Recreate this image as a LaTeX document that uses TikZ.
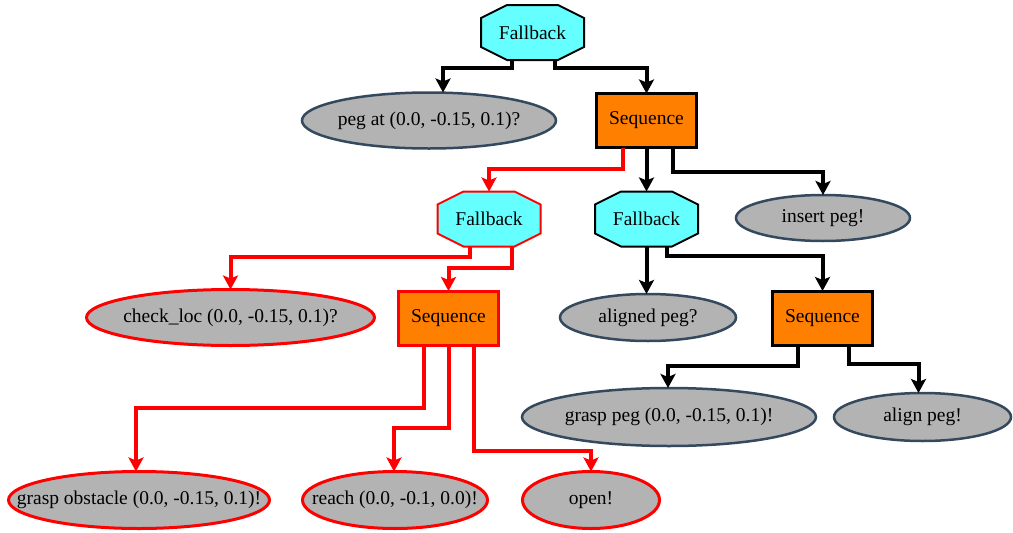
\documentclass[tikz,border=0pt]{standalone}
\usepackage{fontspec}
\setmainfont{Liberation Serif}
\usetikzlibrary{arrows.meta,backgrounds,shapes.geometric}
\definecolor{fbcyan}{HTML}{66FFFF}
\definecolor{seqorange}{HTML}{FF8000}
\definecolor{leafgray}{HTML}{B3B3B3}
\definecolor{leafedge}{HTML}{34495E}
\definecolor{hot}{HTML}{FF0000}
\tikzset{
  every node/.style={font=\fontsize{19.5}{22}\selectfont, outer sep=0pt},
  octa/.style={rectangle, minimum width=103pt, minimum height=55pt, inner sep=0pt},
  seqbox/.style={rectangle, draw=black, line width=3pt, fill=seqorange, minimum width=100pt, minimum height=54pt, inner sep=0pt},
  leaf/.style={ellipse, draw=leafedge, line width=2.5pt, fill=leafgray, inner sep=0pt},
  hotleaf/.style={leaf, draw=hot, line width=3pt},
  hotseq/.style={seqbox, draw=hot},
  edge/.style={line width=4pt, draw=black, -{Stealth[length=14pt,width=15pt,inset=3pt]}},
  hotedge/.style={edge, draw=hot},
}
\newcommand\octpath[2]{\draw[line width=2pt, draw=#2, fill=fbcyan]
  ([xshift=26pt]#1.north west) -- ([xshift=-26pt]#1.north east) --
  ([yshift=-13pt]#1.north east) -- ([yshift=13pt]#1.south east) --
  ([xshift=-26pt]#1.south east) -- ([xshift=26pt]#1.south west) --
  ([yshift=13pt]#1.south west) -- ([yshift=-13pt]#1.north west) -- cycle;}
\newcommand\lt[1]{\makebox[0pt][c]{#1}}
\begin{document}
\begin{tikzpicture}[x=1pt,y=-1pt]
\useasboundingbox (0,0) rectangle (1013,533);
% nodes
\node[octa] (fb1) at (532.5,32.5) {Fallback};
\node[leaf, minimum width=254pt, minimum height=56pt] (peg) at (429,120.5) {\lt{peg at (0.0, -0.15, 0.1)?}};
\node[seqbox] (seq1) at (646.5,120.5) {Sequence};
\node[octa] (fbR) at (489,219) {Fallback};
\node[octa] (fb2) at (646.5,219) {Fallback};
\node[leaf, minimum width=174pt, minimum height=46pt] (ins) at (823,218) {\lt{insert peg!}};
\node[hotleaf, minimum width=288pt, minimum height=56pt] (chk) at (230.5,317.5) {\lt{check\_loc (0.0, -0.15, 0.1)?}};
\node[hotseq] (seq2) at (448.5,318) {Sequence};
\node[leaf, minimum width=176pt, minimum height=47pt] (alg) at (648,317.5) {\lt{aligned peg?}};
\node[seqbox] (seq3) at (822.5,318) {Sequence};
\node[leaf, minimum width=294pt, minimum height=58pt] (gpeg) at (669,417) {\lt{grasp peg (0.0, -0.15, 0.1)!}};
\node[leaf, minimum width=177pt, minimum height=48pt] (algn) at (922.5,417) {\lt{align peg!}};
\node[hotleaf, minimum width=261pt, minimum height=57pt] (gobs) at (139,500) {\lt{grasp obstacle (0.0, -0.15, 0.1)!}};
\node[hotleaf, minimum width=185pt, minimum height=57pt] (reach) at (395,500) {\lt{reach (0.0, -0.1, 0.0)!}};
\node[hotleaf, minimum width=137pt, minimum height=57pt] (open) at (591,500) {\lt{open!}};
% octagon outlines
\begin{scope}[on background layer]
\octpath{fb1}{black}
\octpath{fbR}{hot}
\octpath{fb2}{black}
\end{scope}
% edges
\draw[edge] ([xshift=-21pt]fb1.south) -- ++(0,8) -| ([xshift=14pt]peg.north);
\draw[edge] ([xshift=22pt]fb1.south) -- ++(0,8) -| (seq1.north);
\draw[hotedge] ([xshift=-24pt]seq1.south) -- ++(0,21) -| (fbR.north);
\draw[edge] (seq1.south) -- (fb2.north);
\draw[edge] ([xshift=26pt]seq1.south) -- ++(0,24) -| (ins.north);
\draw[hotedge] ([xshift=-19pt]fbR.south) -- ++(0,10.5) -| (chk.north);
\draw[hotedge] ([xshift=23pt]fbR.south) -- ++(0,21.5) -| (seq2.north);
\draw[edge] (fb2.south) -- (fb2.south |- alg.north);
\draw[edge] ([xshift=20pt]fb2.south) -- ++(0,9.5) -| (seq3.north);
\draw[edge] ([xshift=-25pt]seq3.south) -- ++(0,20.5) -| ([xshift=-1pt]gpeg.north);
\draw[edge] ([xshift=26pt]seq3.south) -- ++(0,18.5) -| ([xshift=-4pt]algn.north);
\draw[hotedge] ([xshift=-25pt]seq2.south) -- ++(0,62.5) -| ([xshift=-3pt]gobs.north);
\draw[hotedge] (seq2.south) -- ++(0,82.5) -| ([xshift=-1pt]reach.north);
\draw[hotedge] ([xshift=25pt]seq2.south) -- ++(0,105.5) -| (open.north);
\end{tikzpicture}
\end{document}
